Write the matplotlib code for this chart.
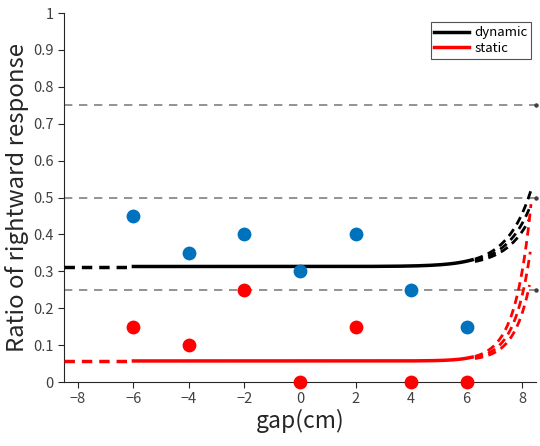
import numpy as np
import matplotlib
matplotlib.use("Agg")
import matplotlib.pyplot as plt

plt.rcParams['font.family'] = ['Noto Sans CJK JP', 'DejaVu Sans']

gap = [-6, -4, -2, 0, 2, 4, 6]
dynamic_obs = [0.45, 0.35, 0.40, 0.30, 0.40, 0.25, 0.15]
static_obs = [0.15, 0.10, 0.25, 0.0, 0.15, 0.0, 0.0]

# fitted curve parameters: base level, amplitude at x_end, growth rate
dyn_base, dyn_amp, dyn_rate = 0.313, 0.207, 1.15
sta_base, sta_amp, sta_rate = 0.057, 0.425, 1.75
x_end = 8.32
shifts = [0.0, 0.18, 0.36]
ref_levels = [0.25, 0.5, 0.75]

def curve(x, base, amp, rate, shift=0.0):
    return base + amp * np.exp(rate * (x - x_end - shift))

fig = plt.figure(figsize=(5.4, 4.46), dpi=100)
ax = fig.add_axes([64/540, 1-382/446, (536-64)/540, (382-13)/446])

for lv in ref_levels:
    ax.axhline(lv, color='#808080', lw=1.2, ls=(0, (5, 4)), zorder=1)
    ax.plot([8.5], [lv], marker='o', ms=2.2, color='#404040', clip_on=False, zorder=2)

for base, amp, rate, col, lab in [(dyn_base, dyn_amp, dyn_rate, 'black', 'dynamic'),
                                  (sta_base, sta_amp, sta_rate, 'red', 'static')]:
    xl = np.linspace(-8.5, -6, 20)
    ax.plot(xl, curve(xl, base, amp, rate), color=col, lw=2.5, ls=(0, (3, 2)), zorder=3)
    xs = np.linspace(-6, 6.2, 300)
    ax.plot(xs, curve(xs, base, amp, rate), color=col, lw=2.5, zorder=3, label=lab)
    for s in shifts:
        xr = np.linspace(6.3, x_end - s * 0.15, 60)
        ax.plot(xr, curve(xr, base, amp, rate, s), color=col, lw=2.0,
                ls=(0, (3, 2)), zorder=3)

ax.scatter(gap, dynamic_obs, s=80, color='#0072BD', zorder=4, clip_on=False)
ax.scatter(gap, static_obs, s=80, color='red', zorder=4, clip_on=False)

ax.set_xlim(-8.5, 8.5)
ax.set_ylim(0, 1)
ax.set_xticks([-8, -6, -4, -2, 0, 2, 4, 6, 8])
ax.set_yticks(np.arange(0, 1.01, 0.1))
ax.set_yticklabels(['0', '0.1', '0.2', '0.3', '0.4', '0.5', '0.6', '0.7', '0.8', '0.9', '1'])
ax.spines['top'].set_visible(False)
ax.spines['right'].set_visible(False)
for sp in ['left', 'bottom']:
    ax.spines[sp].set_color('#262626')
ax.tick_params(direction='out', length=4, width=0.8, colors='#262626', labelsize=10.5,
               labelcolor='#404040')
ax.set_xlabel('gap(cm)', fontsize=16.5, color='#262626', labelpad=2)
ax.set_ylabel('Ratio of rightward response', fontsize=17.2, color='#262626', labelpad=3)

leg = ax.legend(loc='upper right', bbox_to_anchor=(0.99, 0.975), fontsize=9.5,
                frameon=True, fancybox=False, edgecolor='#262626', handlelength=2.6,
                borderpad=0.3, labelspacing=0.2, handletextpad=0.4, borderaxespad=0)
leg.get_frame().set_linewidth(0.8)

fig.savefig('out.png', dpi=100)
